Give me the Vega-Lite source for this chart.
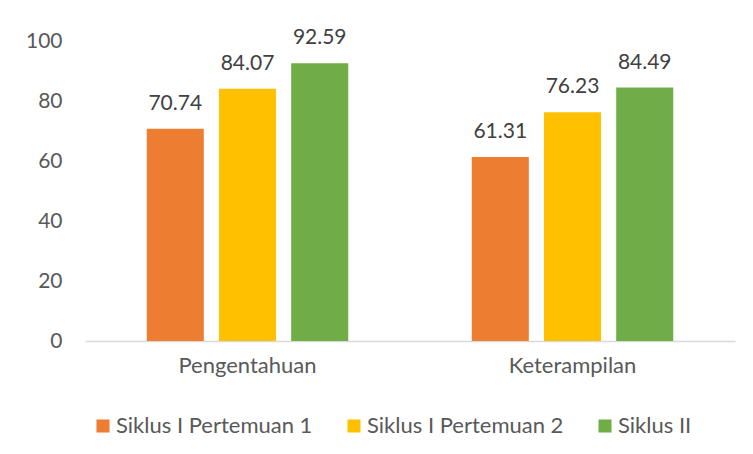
{
  "$schema": "https://vega.github.io/schema/vega-lite/v6.json",
  "width": 650,
  "height": 300,
  "autosize": {"type": "none"},
  "padding": {"left": 85, "top": 41, "right": 18, "bottom": 113},
  "background": "white",
  "data": {"values": [
    {"kategori": "Pengentahuan", "siklus": "Siklus I Pertemuan 1", "nilai": 70.74},
    {"kategori": "Pengentahuan", "siklus": "Siklus I Pertemuan 2", "nilai": 84.07},
    {"kategori": "Pengentahuan", "siklus": "Siklus II", "nilai": 92.59},
    {"kategori": "Keterampilan", "siklus": "Siklus I Pertemuan 1", "nilai": 61.31},
    {"kategori": "Keterampilan", "siklus": "Siklus I Pertemuan 2", "nilai": 76.23},
    {"kategori": "Keterampilan", "siklus": "Siklus II", "nilai": 84.49}
  ]},
  "encoding": {
    "x": {"field": "kategori", "type": "nominal", "sort": null,
      "scale": {"paddingInner": 0.38, "paddingOuter": 0.19},
      "axis": {"title": null, "labelAngle": 0, "domainColor": "#D9D9D9", "domainWidth": 1.5, "ticks": false, "labelPadding": 14, "labelFontSize": 22, "labelColor": "#595959", "labelFont": "Lato"}},
    "xOffset": {"field": "siklus", "type": "nominal", "sort": null,
      "scale": {"paddingInner": 0.21, "paddingOuter": 0}},
    "y": {"field": "nilai", "type": "quantitative",
      "scale": {"domain": [0, 100]},
      "axis": {"title": null, "values": [0, 20, 40, 60, 80, 100], "grid": false, "domain": false, "ticks": false, "labelPadding": 23, "labelFontSize": 21, "labelColor": "#595959", "labelFont": "Lato"}}
  },
  "layer": [
    {"mark": {"type": "bar"},
      "encoding": {"color": {"field": "siklus", "type": "nominal", "sort": null,
        "scale": {"domain": ["Siklus I Pertemuan 1", "Siklus I Pertemuan 2", "Siklus II"], "range": ["#ED7D31", "#FFC000", "#70AD47"]},
        "legend": {"title": null, "orient": "none", "direction": "horizontal", "legendX": 7, "legendY": 374, "symbolType": "square", "symbolSize": 170, "symbolStrokeWidth": 0, "labelFontSize": 22, "labelColor": "#595959", "labelFont": "Lato", "columnPadding": 30, "labelOffset": 2, "labelLimit": 300}}}},
    {"mark": {"type": "text", "baseline": "bottom", "dy": -15, "fontSize": 21, "color": "#404040", "font": "Lato"},
      "encoding": {"text": {"field": "nilai", "type": "quantitative", "format": ".2f"}}}
  ],
  "config": {"view": {"stroke": null}}
}
